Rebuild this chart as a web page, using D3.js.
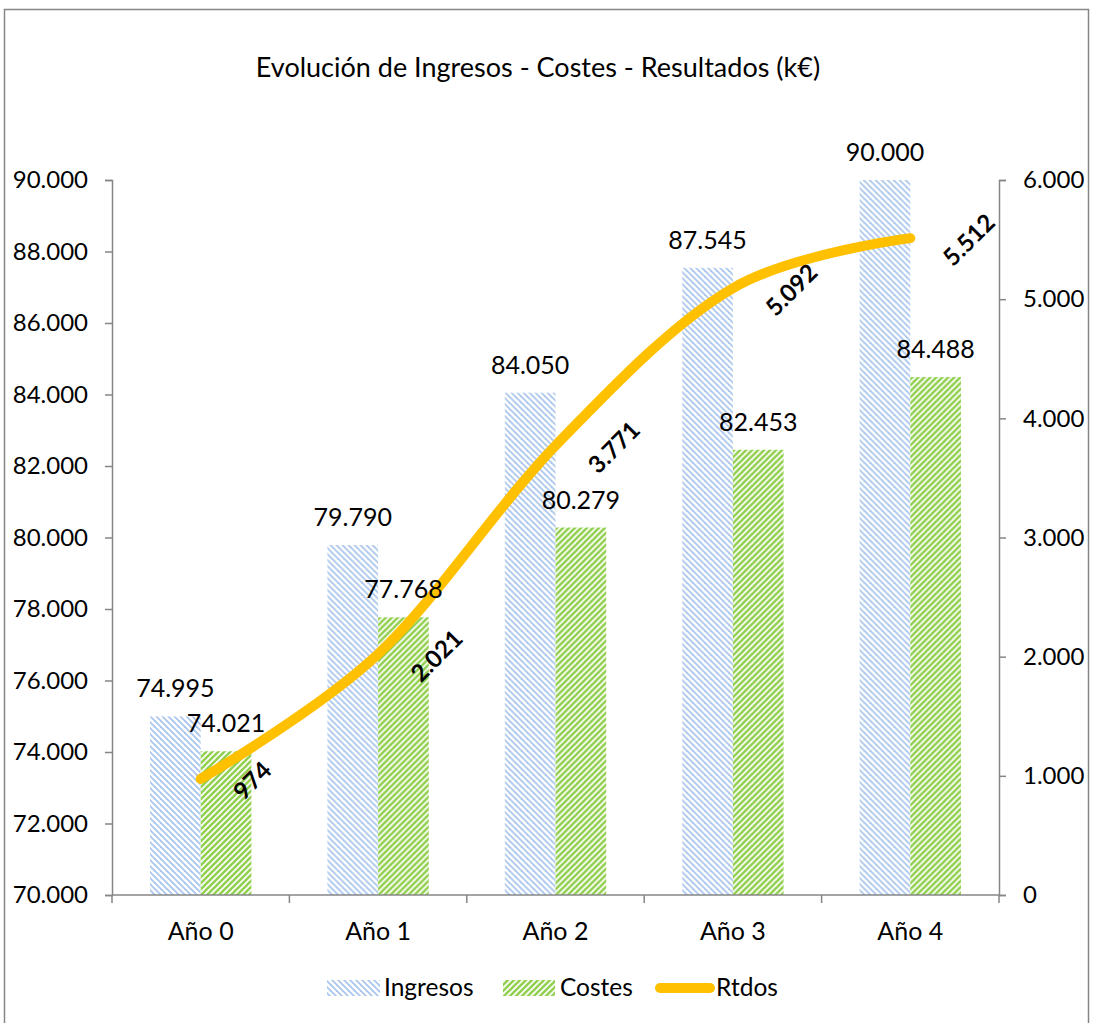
<!DOCTYPE html>
<html>
<head>
<meta charset="utf-8">
<script src="https://cdn.jsdelivr.net/npm/d3@7"></script>
<style>
  html, body { margin: 0; padding: 0; background: #fff; }
  svg { display: block; font-family: Lato, "Open Sans", sans-serif; }
</style>
</head>
<body>
<svg id="chart" width="1093" height="1023"></svg>
<script>
// Evolución de Ingresos / Costes / Resultados (k€)
const categories = ["Año 0", "Año 1", "Año 2", "Año 3", "Año 4"];
const ingresos   = [74995, 79790, 84050, 87545, 90000];
const costes     = [74021, 77768, 80279, 82453, 84488];
const rtdos      = [974, 2021, 3771, 5092, 5512];
const leftTicks  = [70000, 72000, 74000, 76000, 78000, 80000, 82000, 84000, 86000, 88000, 90000];
const rightTicks = [0, 1000, 2000, 3000, 4000, 5000, 6000];
const seriesNames = ["Ingresos", "Costes", "Rtdos"];

const svg = d3.select("#chart");
const axisColor = "#868686";
const blue = "#abc6ec", green = "#92d050", gold = "#ffc000";

// Thousands separated with a dot
const fmt = v => d3.format(",")(v).replace(/,/g, ".");

const plot = { left: 112, right: 999, top: 180, bottom: 895 };

const x = d3.scaleBand().domain(categories).range([plot.left, plot.right]).padding(0);
const xSub = d3.scaleBand().domain(["Ingresos", "Costes"]).range([0, x.bandwidth()])
  .paddingInner(0).paddingOuter(0.75);
const yL = d3.scaleLinear().domain([70000, 90000]).range([plot.bottom, plot.top]);
const yR = d3.scaleLinear().domain([0, 6000]).range([plot.bottom, plot.top]);

// Hatch fills
const defs = svg.append("defs");
function hatch(id, color, width, down) {
  const p = defs.append("pattern").attr("id", id)
    .attr("patternUnits", "userSpaceOnUse").attr("width", 6).attr("height", 6);
  p.append("rect").attr("width", 6).attr("height", 6).attr("fill", "#fff");
  const segs = down
    ? [[-3, -3, 9, 9], [-3, 3, 3, 9], [3, -3, 9, 3]]
    : [[-3, 9, 9, -3], [-3, 3, 3, -3], [3, 9, 9, 3]];
  segs.forEach(s => p.append("line")
    .attr("x1", s[0]).attr("y1", s[1]).attr("x2", s[2]).attr("y2", s[3])
    .attr("stroke", color).attr("stroke-width", width));
}
hatch("hIngresos", blue, 1.8, true);
hatch("hCostes", green, 2.6, false);

// Outer frame
svg.append("rect").attr("x", 4.5).attr("y", 9.5).attr("width", 1084).attr("height", 1100)
  .attr("fill", "none").attr("stroke", axisColor).attr("stroke-width", 1.5);

// Title
svg.append("text").attr("x", 538).attr("y", 77).attr("text-anchor", "middle")
  .attr("font-size", 27).attr("fill", "#000")
  .text("Evolución de Ingresos - Costes - Resultados (k€)");

// Bars
const groups = svg.append("g").selectAll("g").data(categories).join("g")
  .attr("transform", d => `translate(${x(d)},0)`);
groups.append("rect")
  .attr("x", xSub("Ingresos")).attr("width", xSub.bandwidth())
  .attr("y", (d, i) => yL(ingresos[i])).attr("height", (d, i) => plot.bottom - yL(ingresos[i]))
  .attr("fill", "url(#hIngresos)");
groups.append("rect")
  .attr("x", xSub("Costes")).attr("width", xSub.bandwidth())
  .attr("y", (d, i) => yL(costes[i])).attr("height", (d, i) => plot.bottom - yL(costes[i]))
  .attr("fill", "url(#hCostes)");

// Axes
function styleAxis(size) {
  return g => {
    g.select(".domain").attr("stroke", axisColor).attr("stroke-width", 1.5);
    g.selectAll(".tick line").attr("stroke", axisColor).attr("stroke-width", 1.5);
    g.selectAll(".tick text").attr("fill", "#000").attr("font-size", size)
      .attr("font-family", "Lato, 'Open Sans', sans-serif");
  };
}
svg.append("g").attr("transform", `translate(${plot.left},0)`)
  .call(d3.axisLeft(yL).tickValues(leftTicks).tickFormat(fmt).tickSize(7).tickSizeOuter(7).tickPadding(17))
  .call(styleAxis(24));
svg.append("g").attr("transform", `translate(${plot.right},0)`)
  .call(d3.axisRight(yR).tickValues(rightTicks).tickFormat(fmt).tickSize(7).tickSizeOuter(7).tickPadding(17))
  .call(styleAxis(24));
const xAxis = svg.append("g").attr("transform", `translate(0,${plot.bottom})`)
  .call(d3.axisBottom(x).tickSize(0).tickSizeOuter(0).tickPadding(27))
  .call(styleAxis(25));
xAxis.select(".domain").attr("d", `M${plot.left},0H${plot.right}`);
// Category boundary ticks
const bounds = categories.map(c => x(c)).concat([plot.right]);
xAxis.selectAll(".bound").data(bounds).join("line").attr("class", "bound")
  .attr("x1", d => d).attr("x2", d => d).attr("y1", 0).attr("y2", 8)
  .attr("stroke", axisColor).attr("stroke-width", 1.5);

// Result line (right axis), smoothed
const cx = c => x(c) + x.bandwidth() / 2;
const line = d3.line().x((d, i) => cx(categories[i])).y(d => yR(d)).curve(d3.curveCatmullRom.alpha(0));
svg.append("path").datum(rtdos).attr("d", line)
  .attr("fill", "none").attr("stroke", gold).attr("stroke-width", 10)
  .attr("stroke-linecap", "round").attr("stroke-linejoin", "round");

// Bar value labels
const labels = svg.append("g").attr("font-size", 25).attr("text-anchor", "middle").attr("fill", "#000");
categories.forEach((c, i) => {
  labels.append("text").attr("x", x(c) + xSub("Ingresos") + xSub.bandwidth() / 2)
    .attr("y", yL(ingresos[i]) - 19).text(fmt(ingresos[i]));
  labels.append("text").attr("x", x(c) + xSub("Costes") + xSub.bandwidth() / 2)
    .attr("y", yL(costes[i]) - 19).text(fmt(costes[i]));
});

// Rotated result labels to the right of each point
const rl = svg.append("g").attr("font-size", 24).attr("font-weight", "bold").attr("fill", "#000");
rtdos.forEach((v, i) => {
  const t = rl.append("text").attr("text-anchor", "middle").attr("dominant-baseline", "central").text(fmt(v));
  const w = t.node().getComputedTextLength();
  const bw = (w + 20) * Math.SQRT1_2;
  const px = cx(categories[i]) + 29 + bw / 2, py = yR(v) + 1;
  t.attr("transform", `translate(${px},${py}) rotate(-45)`);
});

// Legend
const lg = svg.append("g").attr("font-size", 24.5).attr("fill", "#000");
lg.append("rect").attr("x", 327).attr("y", 980).attr("width", 53).attr("height", 16).attr("fill", "url(#hIngresos)");
lg.append("text").attr("x", 384).attr("y", 996).text(seriesNames[0]);
lg.append("rect").attr("x", 503).attr("y", 980).attr("width", 52).attr("height", 16).attr("fill", "url(#hCostes)");
lg.append("text").attr("x", 560).attr("y", 996).text(seriesNames[1]);
lg.append("line").attr("x1", 660).attr("x2", 710).attr("y1", 988).attr("y2", 988)
  .attr("stroke", gold).attr("stroke-width", 10).attr("stroke-linecap", "round");
lg.append("text").attr("x", 716).attr("y", 996).text(seriesNames[2]);
</script>
</body>
</html>
